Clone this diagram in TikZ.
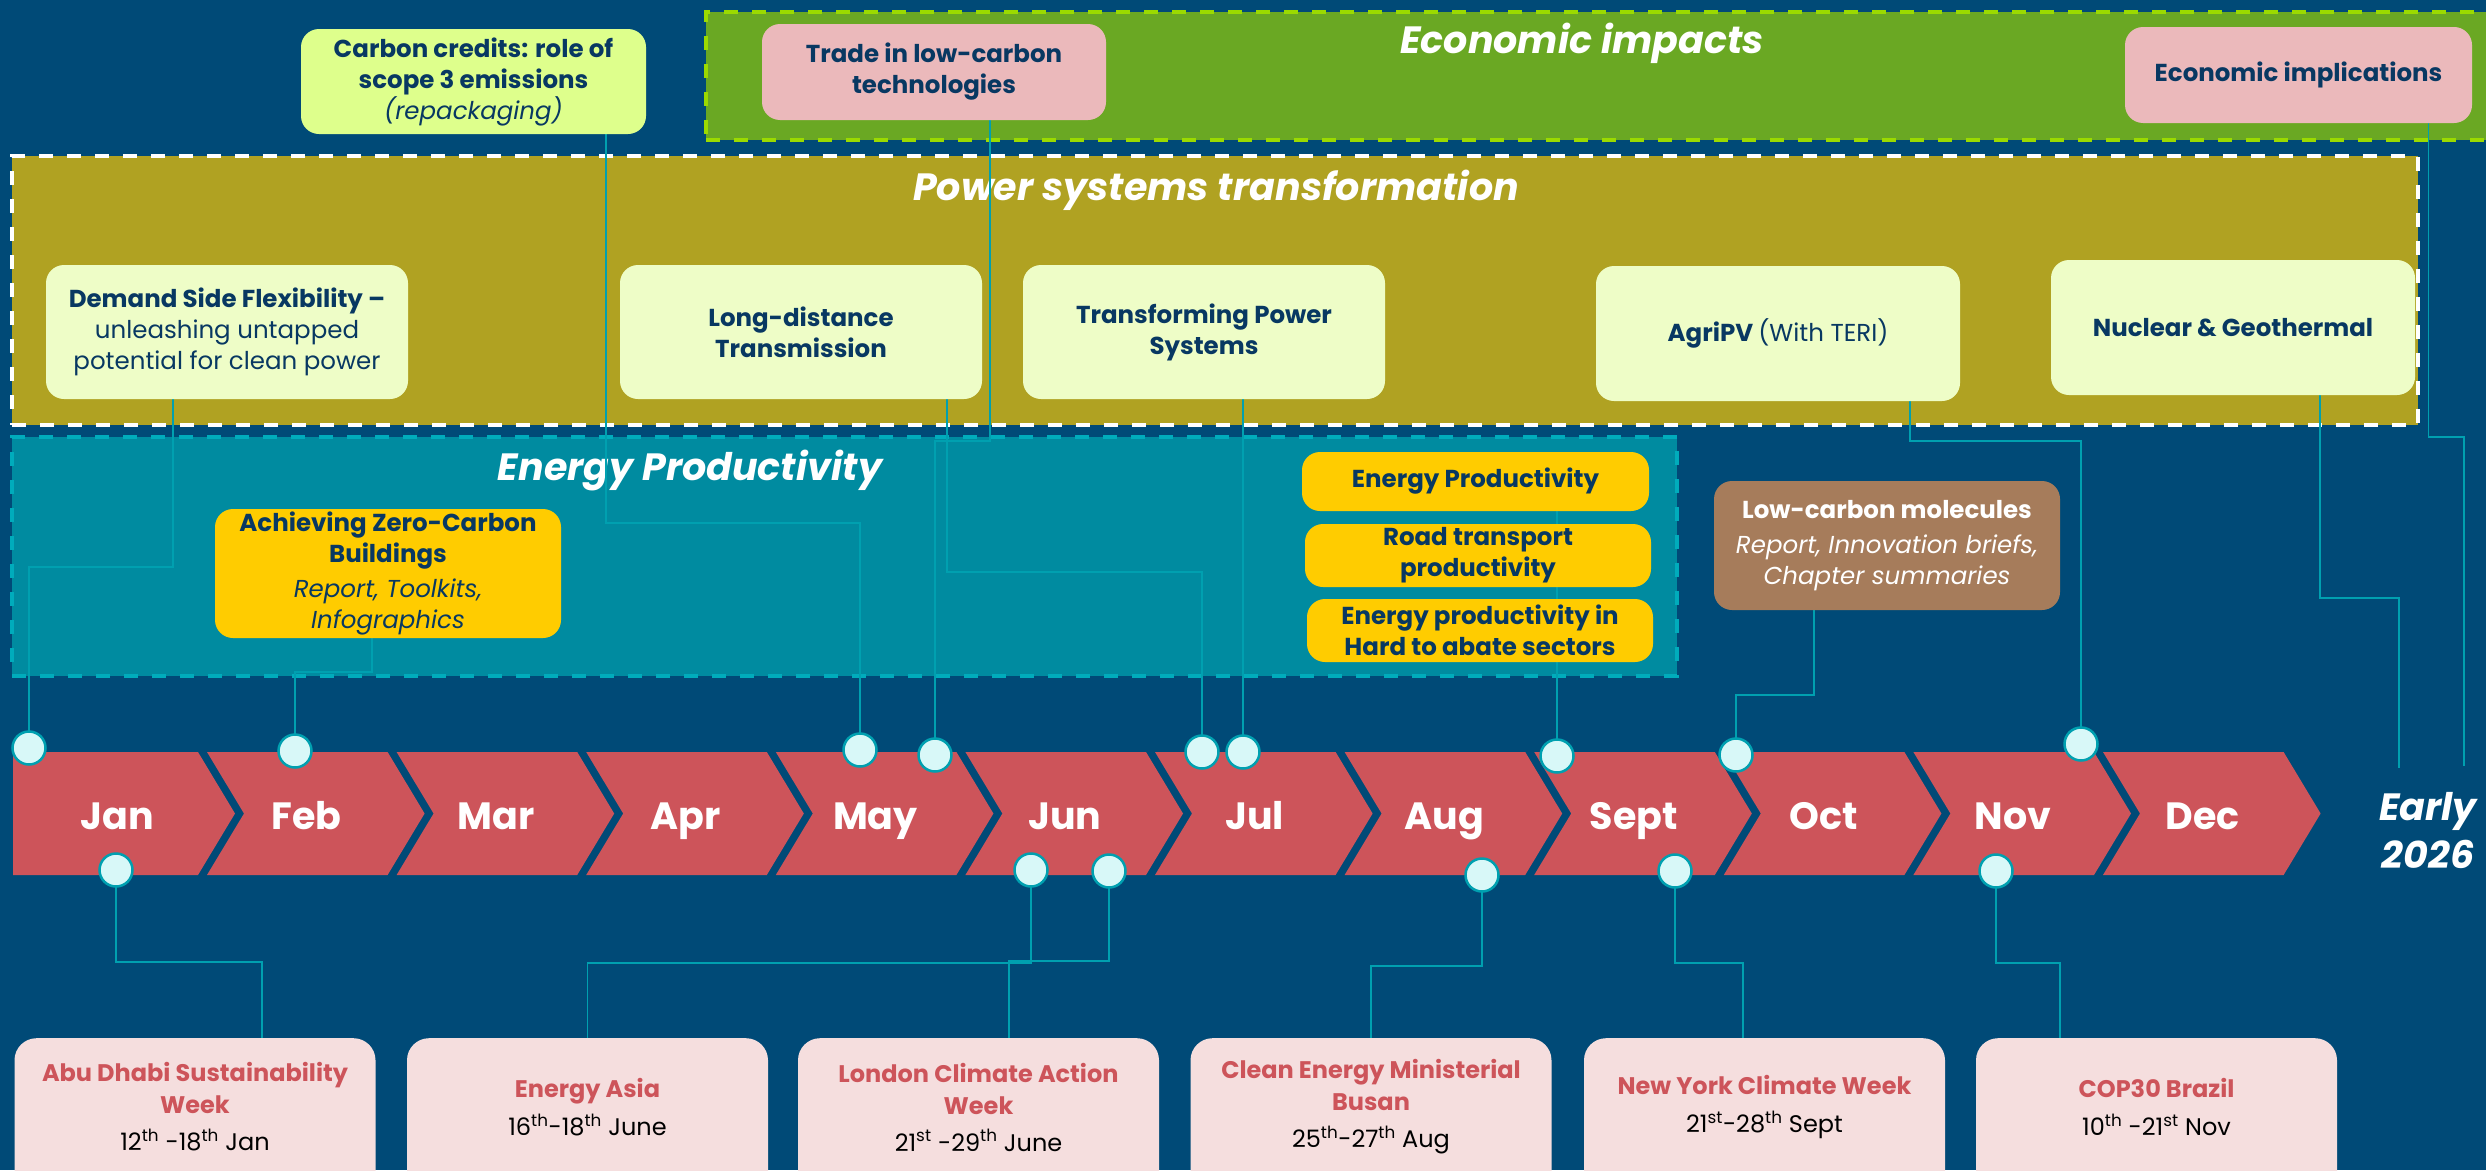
\documentclass[tikz,border=0pt]{standalone}
\usepackage{fontspec}
\setmainfont{Poppins}
\definecolor{bg}{RGB}{0,74,119}
\definecolor{econG}{RGB}{106,168,35}
\definecolor{econB}{RGB}{155,218,0}
\definecolor{powF}{RGB}{176,162,34}
\definecolor{epF}{RGB}{0,139,160}
\definecolor{epB}{RGB}{0,172,188}
\definecolor{pinkB}{RGB}{235,185,187}
\definecolor{paleG}{RGB}{238,253,199}
\definecolor{carbF}{RGB}{222,255,140}
\definecolor{yel}{RGB}{255,204,0}
\definecolor{brownB}{RGB}{166,124,91}
\definecolor{chevR}{RGB}{205,84,90}
\definecolor{evF}{RGB}{245,222,222}
\definecolor{evR}{RGB}{205,84,90}
\definecolor{navy}{RGB}{8,56,98}
\definecolor{lineC}{RGB}{0,160,176}
\definecolor{dotF}{RGB}{216,248,248}
\newcommand\fsz[2]{\fontsize{#1}{#2}\selectfont}
\tikzset{
  grp/.style={rectangle,inner sep=0,line width=4,dash pattern=on 14pt off 14pt},
  sbox/.style={rectangle,rounded corners=18,inner sep=0,align=center,text=navy,font=\fsz{24.5}{31}\bfseries},
  conn/.style={draw=lineC,line width=1.8},
  dotn/.style={circle,minimum size=33,inner sep=0,fill=dotF,draw=lineC,line width=2.5},
  mon/.style={text=white,font=\fsz{38}{40}\bfseries,anchor=base},
  ttl/.style={text=white,font=\fsz{38}{40}\bfseries\itshape,anchor=base},
  evbox/.style={rectangle,rounded corners=22,fill=evF,minimum width=361,minimum height=180,anchor=north,inner sep=0},
  evt/.style={align=center,font=\fsz{24}{32},text=black},
  chev/.style={fill=chevR}
}
\newcommand\evtitle[1]{\textcolor{evR}{\bfseries #1}}
\begin{document}
\begin{tikzpicture}[x=1pt,y=-1pt]
\useasboundingbox (0,0) rectangle (2486,1170);
\clip (0,0) rectangle (2486,1170);
\fill[bg] (0,0) rectangle (2486,1170);

% group boxes
\node[grp,fill=econG,draw=econB,minimum width=1800,minimum height=128] (econ) at (1606,75.5) {};
\node[ttl] (econT) at (1582,53) {Economic impacts};
\node[grp,fill=powF,draw=white,minimum width=2406,minimum height=269] (pow) at (1215,290.5) {};
\node[ttl] (powT) at (1216,200) {Power systems transformation};
\node[grp,fill=epF,draw=epB,minimum width=1665,minimum height=239] (ep) at (844.5,556.5) {};
\node[ttl] (epT) at (690,480) {Energy Productivity};

% month chevrons
\foreach \m [count=\i from 0] in {Jan,Feb,Mar,Apr,May,Jun,Jul,Aug,Sept,Oct,Nov,Dec}{
  \pgfmathsetmacro\P{235+189.6*\i}
  \pgfmathsetmacro\L{\P-189.6-28}
  \ifnum\i=0
    \fill[chev] (13,752) -- ({\P-37},752) -- (\P,813.5) -- ({\P-37},875) -- (13,875) -- cycle;
  \else
    \fill[chev] (\L,752) -- ({\P-37},752) -- (\P,813.5) -- ({\P-37},875) -- (\L,875) -- ({\L+37},813.5) -- cycle;
  \fi
  \node[mon] (m\i) at ({\P-118},829) {\m};
}
\node[text=white,font=\fsz{38}{48}\bfseries\itshape,align=center] (early) at (2428,831) {Early\\2026};
\coordinate (e1) at (2399,768);
\coordinate (e2) at (2464,766);

% dot positions
\coordinate (t1) at (29,748);
\coordinate (t2) at (295,751);
\coordinate (t3) at (860,750);
\coordinate (t4) at (935,755);
\coordinate (t5) at (1202,752);
\coordinate (t6) at (1243,752);
\coordinate (t7) at (1557,756);
\coordinate (t8) at (1736,755);
\coordinate (t9) at (2081,744);
\coordinate (b1) at (116,870);
\coordinate (b2) at (1031,870);
\coordinate (b3) at (1109,871);
\coordinate (b4) at (1482,875);
\coordinate (b5) at (1675,871);
\coordinate (b6) at (1996,871);

% small boxes (positions only, drawn after connectors)
\path
  node[sbox,minimum width=345,minimum height=105] (carbon) at (473.5,81.5) {}
  node[sbox,minimum width=344,minimum height=96] (trade) at (934,72) {}
  node[sbox,minimum width=347,minimum height=96] (econimp) at (2298.5,75) {}
  node[sbox,minimum width=362,minimum height=134] (dsf) at (227,332) {}
  node[sbox,minimum width=362,minimum height=134] (ldt) at (801,332) {}
  node[sbox,minimum width=362,minimum height=134] (tps) at (1204,332) {}
  node[sbox,minimum width=364,minimum height=135] (agri) at (1778,333.5) {}
  node[sbox,minimum width=364,minimum height=135] (nuc) at (2233,327.5) {}
  node[sbox,minimum width=346,minimum height=129] (azcb) at (388,573.5) {}
  node[sbox,minimum width=347,minimum height=59] (ep1) at (1475.5,481.5) {}
  node[sbox,minimum width=346,minimum height=63] (ep2) at (1478,555.5) {}
  node[sbox,minimum width=346,minimum height=63] (ep3) at (1480,630.5) {}
  node[sbox,minimum width=346,minimum height=129] (lcm) at (1887,545.5) {};

% event boxes
\node[evbox] (abu) at (195,1038) {};
\node[evbox] (asia) at (587.5,1038) {};
\node[evbox] (london) at (978.5,1038) {};
\node[evbox] (clean) at (1371,1038) {};
\node[evbox] (ny) at (1764.5,1038) {};
\node[evbox] (cop) at (2156.5,1038) {};

% connectors
\draw[conn] ([xshift=-54]dsf.south) -- ++(0,168) -| (t1);
\draw[conn] ([xshift=132.5]carbon.south) -- ++(0,389) -| (t3);
\draw[conn] ([xshift=56]trade.south) -- ++(0,321) -| (t4);
\draw[conn] ([xshift=146]ldt.south) -- ++(0,173) -| (t5);
\draw[conn] ([xshift=39]tps.south) -- (t6);
\draw[conn] ([xshift=-16]azcb.south) -- ++(0,34) -| (t2);
\draw[conn] ([xshift=81.5]ep1.south) -- (t7);
\draw[conn] ([xshift=132]agri.south) -- ++(0,40) -| (t9);
\draw[conn] ([xshift=87]nuc.south) -- ++(0,203) -| (e1);
\draw[conn] ([xshift=130]econimp.south) -- ++(0,314) -| (e2);
\draw[conn] ([xshift=-73]lcm.south) -- ++(0,85) -| (t8);
\draw[conn] (b1) -- ++(0,92) -| ([xshift=67]abu.north);
\draw[conn] (b2) -- ++(0,93) -| (asia.north);
\draw[conn] (b3) -- ++(0,90) -| ([xshift=30.5]london.north);
\draw[conn] (b4) -- ++(0,91) -| (clean.north);
\draw[conn] (b5) -- ++(0,92) -| ([xshift=-21.5]ny.north);
\draw[conn] (b6) -- ++(0,92) -| ([xshift=-96.5]cop.north);

% small boxes drawn
\node[sbox,fill=carbF,minimum width=345,minimum height=105] at (carbon) {Carbon credits: role of\\scope 3 emissions\\{\mdseries\itshape (repackaging)}};
\node[sbox,fill=pinkB,minimum width=344,minimum height=96] at (trade) {Trade in low-carbon\\technologies};
\node[sbox,fill=pinkB,minimum width=347,minimum height=96] at (econimp) {Economic implications};
\node[sbox,fill=paleG,minimum width=362,minimum height=134] at (dsf) {Demand Side Flexibility –\\{\mdseries unleashing untapped}\\{\mdseries potential for clean power}};
\node[sbox,fill=paleG,minimum width=362,minimum height=134] at (ldt) {Long-distance\\Transmission};
\node[sbox,fill=paleG,minimum width=362,minimum height=134] at (tps) {Transforming Power\\Systems};
\node[sbox,fill=paleG,minimum width=364,minimum height=135] at (agri) {AgriPV {\mdseries (With TERI)}};
\node[sbox,fill=paleG,minimum width=364,minimum height=135] at (nuc) {Nuclear \& Geothermal};
\node[sbox,fill=yel,minimum width=346,minimum height=129] at (azcb) {Achieving Zero-Carbon\\Buildings\\[4pt]{\mdseries\itshape Report, Toolkits,}\\{\mdseries\itshape Infographics}};
\node[sbox,fill=yel,minimum width=347,minimum height=59] at (ep1) {Energy Productivity};
\node[sbox,fill=yel,minimum width=346,minimum height=63] at (ep2) {Road transport\\productivity};
\node[sbox,fill=yel,minimum width=346,minimum height=63] at (ep3) {Energy productivity in\\Hard to abate sectors};
\node[sbox,fill=brownB,text=white,minimum width=346,minimum height=129] at (lcm) {Low-carbon molecules\\[4pt]{\mdseries\itshape Report, Innovation briefs,}\\{\mdseries\itshape Chapter summaries}};

% event texts
\node[evt] (abuT) at (195,1107) {\evtitle{Abu Dhabi Sustainability}\\\evtitle{Week}\\[5pt]12\textsuperscript{th} -18\textsuperscript{th} Jan};
\node[evt] (asiaT) at (587.5,1107) {\evtitle{Energy Asia}\\[6pt]16\textsuperscript{th}-18\textsuperscript{th} June};
\node[evt] (londonT) at (978.5,1107) {\evtitle{London Climate Action}\\\evtitle{Week}\\[5pt]21\textsuperscript{st} -29\textsuperscript{th} June};
\node[evt] (cleanT) at (1371,1107) {\evtitle{Clean Energy Ministerial}\\\evtitle{Busan}\\[5pt]25\textsuperscript{th}-27\textsuperscript{th} Aug};
\node[evt] (nyT) at (1764.5,1107) {\evtitle{New York Climate Week}\\[6pt]21\textsuperscript{st}-28\textsuperscript{th} Sept};
\node[evt] (copT) at (2156.5,1107) {\evtitle{COP30 Brazil}\\[6pt]10\textsuperscript{th} -21\textsuperscript{st} Nov};

% dots
\foreach \d in {t1,t2,t3,t4,t5,t6,t7,t8,t9,b1,b2,b3,b4,b5,b6}{
  \node[dotn] (d\d) at (\d) {};
}
\end{tikzpicture}
\end{document}
